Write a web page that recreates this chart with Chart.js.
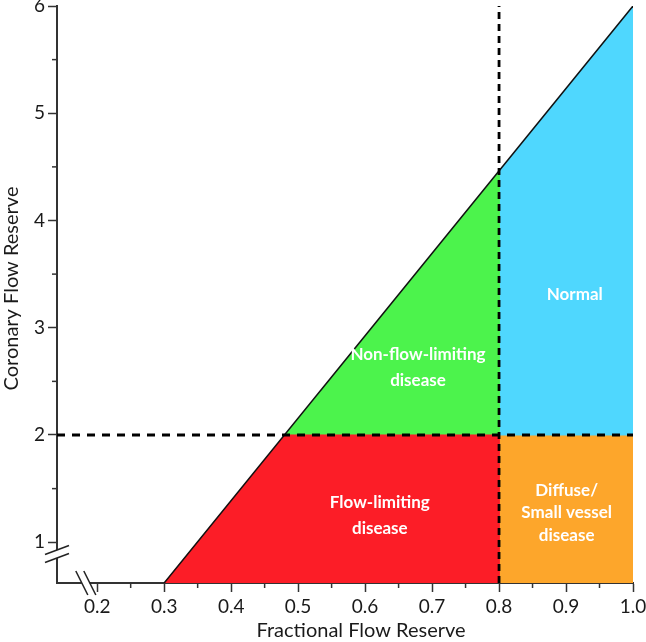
<!DOCTYPE html>
<html>
<head>
<meta charset="utf-8">
<script src="https://cdn.jsdelivr.net/npm/chart.js@4.4.1/dist/chart.umd.min.js"></script>
<style>
html, body { margin: 0; padding: 0; background: #fff; }
#wrap { width: 646px; height: 642px; }
</style>
</head>
<body>
<div id="wrap"><canvas id="c"></canvas></div>
<script>
// axis ranges and ticks
var xMin = 0.14, xMax = 1.0, yMin = 0.62, yMax = 6;
var xTicks = [0.2, 0.25, 0.3, 0.35, 0.4, 0.45, 0.5, 0.55, 0.6, 0.65, 0.7, 0.75, 0.8, 0.85, 0.9, 0.95, 1.0];
var yTicks = [1, 1.5, 2, 2.5, 3, 3.5, 4, 4.5, 5, 5.5, 6];

// cut-offs
var ffrCut = 0.8, cfrCut = 2;

// diagonal boundary
var diagX = [0.3, 1.0];
var diagY = [0.62, 6];

// region outlines
var redX = [0.3, 0.48, 0.8, 0.8, 0.3];
var redY = [0.62, 2, 2, 0.62, 0.62];
var greenX = [0.48, 0.8, 0.8, 0.48];
var greenY = [2, 4.46, 2, 2];
var blueX = [0.8, 0.8, 1.0, 1.0, 0.8];
var blueY = [2, 4.46, 6, 2, 2];
var orangeX = [0.8, 0.8, 1.0, 1.0, 0.8];
var orangeY = [0.62, 2, 2, 0.62, 0.62];

// region names
var labelText = [
    ['Non-flow-limiting', 'disease'],
    ['Normal'],
    ['Flow-limiting', 'disease'],
    ['Diffuse/', 'Small vessel', 'disease']
];
var labelX = [0.679, 0.913, 0.622, 0.901];
var labelY = [[2.75, 2.51], [3.31], [1.37, 1.13], [1.485, 1.28, 1.06]];

var xBreak = 0.183, yBreak = 0.89;

function pts(xs, ys) {
    return xs.map(function(x, i) { return {x: x, y: ys[i]}; });
}

function region(xs, ys, col) {
    return {
        data: pts(xs, ys), showLine: true, fill: 'shape',
        backgroundColor: col, borderColor: col, borderWidth: 1,
        pointRadius: 0, order: 2
    };
}

function isMajorX(v) { return Math.round(v * 100) % 10 == 0; }
function isMajorY(v) { return v % 1 == 0; }

var font = 'Lato, "Open Sans", sans-serif';

var extras = {
    id: 'extras',
    afterDraw: function(chart) {
        var ctx = chart.ctx, xs = chart.scales.x, ys = chart.scales.y, a = chart.chartArea;
        ctx.save();
        // minor ticks
        ctx.strokeStyle = '#333';
        ctx.lineWidth = 1.5;
        xTicks.forEach(function(v) {
            if (!isMajorX(v)) {
                var px = xs.getPixelForValue(v);
                ctx.beginPath(); ctx.moveTo(px, a.bottom); ctx.lineTo(px, a.bottom + 5); ctx.stroke();
            }
        });
        yTicks.forEach(function(v) {
            if (!isMajorY(v)) {
                var py = ys.getPixelForValue(v);
                ctx.beginPath(); ctx.moveTo(a.left, py); ctx.lineTo(a.left - 5, py); ctx.stroke();
            }
        });
        // axis breaks
        var bx = xs.getPixelForValue(xBreak), by = ys.getPixelForValue(yBreak);
        ctx.fillStyle = '#fff';
        ctx.fillRect(bx - 4, a.bottom - 3, 8, 6);
        ctx.fillRect(a.left - 3, by - 4, 6, 8);
        ctx.strokeStyle = '#222';
        ctx.lineWidth = 1.5;
        [-4, 4].forEach(function(d) {
            ctx.beginPath(); ctx.moveTo(bx + d - 6, a.bottom - 12); ctx.lineTo(bx + d + 6, a.bottom + 12); ctx.stroke();
            ctx.beginPath(); ctx.moveTo(a.left - 12, by + d + 4.5); ctx.lineTo(a.left + 12, by + d - 4.5); ctx.stroke();
        });
        // region names
        ctx.fillStyle = '#fff';
        ctx.font = 'bold 17px ' + font;
        ctx.textAlign = 'center';
        ctx.textBaseline = 'middle';
        labelText.forEach(function(lines, i) {
            lines.forEach(function(t, j) {
                ctx.fillText(t, xs.getPixelForValue(labelX[i]), ys.getPixelForValue(labelY[i][j]));
            });
        });
        // axis titles
        ctx.fillStyle = '#1a1a1a';
        ctx.font = '20px ' + font;
        ctx.fillText('Fractional Flow Reserve', xs.getPixelForValue(0.594), 631);
        ctx.translate(12, (a.top + a.bottom) / 2 - 6);
        ctx.rotate(-Math.PI / 2);
        ctx.fillText('Coronary Flow Reserve', 0, 0);
        ctx.restore();
    }
};

function fitX(s) { s.height = 59; s.paddingLeft = 0; s.paddingRight = 0; }
function fitY(s) { s.width = 57; s.paddingTop = 0; s.paddingBottom = 0; }

new Chart(document.getElementById('c'), {
    type: 'scatter',
    data: {
        datasets: [
            region(redX, redY, '#FC1D27'),
            region(greenX, greenY, '#4CF34C'),
            region(blueX, blueY, '#4FD7FE'),
            region(orangeX, orangeY, '#FDA62B'),
            { data: pts(diagX, diagY), showLine: true, borderColor: '#111', borderWidth: 1.5, pointRadius: 0, order: 1 },
            { data: pts([ffrCut, ffrCut], [yMin, yMax]), showLine: true, borderColor: '#000', borderWidth: 2.8, borderDash: [7, 5], pointRadius: 0, order: 0 },
            { data: pts([xMin, xMax], [cfrCut, cfrCut]), showLine: true, borderColor: '#000', borderWidth: 2.8, borderDash: [8, 7], pointRadius: 0, order: 0 }
        ]
    },
    options: {
        responsive: true,
        maintainAspectRatio: false,
        animation: false,
        layout: { padding: { top: 6, right: 13, left: 0, bottom: 0 } },
        plugins: { legend: { display: false }, tooltip: { enabled: false } },
        scales: {
            x: {
                type: 'linear', min: xMin, max: xMax,
                afterBuildTicks: function(s) { s.ticks = xTicks.map(function(v) { return {value: v}; }); },
                afterFit: fitX,
                grid: { drawOnChartArea: false, tickLength: 9, tickWidth: 1.5,
                    tickColor: function(c) { return c.tick && isMajorX(c.tick.value) ? '#333' : 'rgba(0,0,0,0)'; } },
                border: { display: true, color: '#333', width: 2 },
                ticks: { autoSkip: false, maxRotation: 0, padding: 3, color: '#1a1a1a', font: { family: font, size: 19 },
                    callback: function(v) { return isMajorX(v) ? v.toFixed(1) : ''; } }
            },
            y: {
                type: 'linear', min: yMin, max: yMax,
                afterBuildTicks: function(s) { s.ticks = yTicks.map(function(v) { return {value: v}; }); },
                afterFit: fitY,
                grid: { drawOnChartArea: false, tickLength: 9, tickWidth: 1.5,
                    tickColor: function(c) { return c.tick && isMajorY(c.tick.value) ? '#333' : 'rgba(0,0,0,0)'; } },
                border: { display: true, color: '#333', width: 2 },
                ticks: { autoSkip: false, padding: 3, color: '#1a1a1a', font: { family: font, size: 19 },
                    callback: function(v) { return isMajorY(v) ? String(v) : ''; } }
            }
        }
    },
    plugins: [extras]
});
</script>
</body>
</html>
